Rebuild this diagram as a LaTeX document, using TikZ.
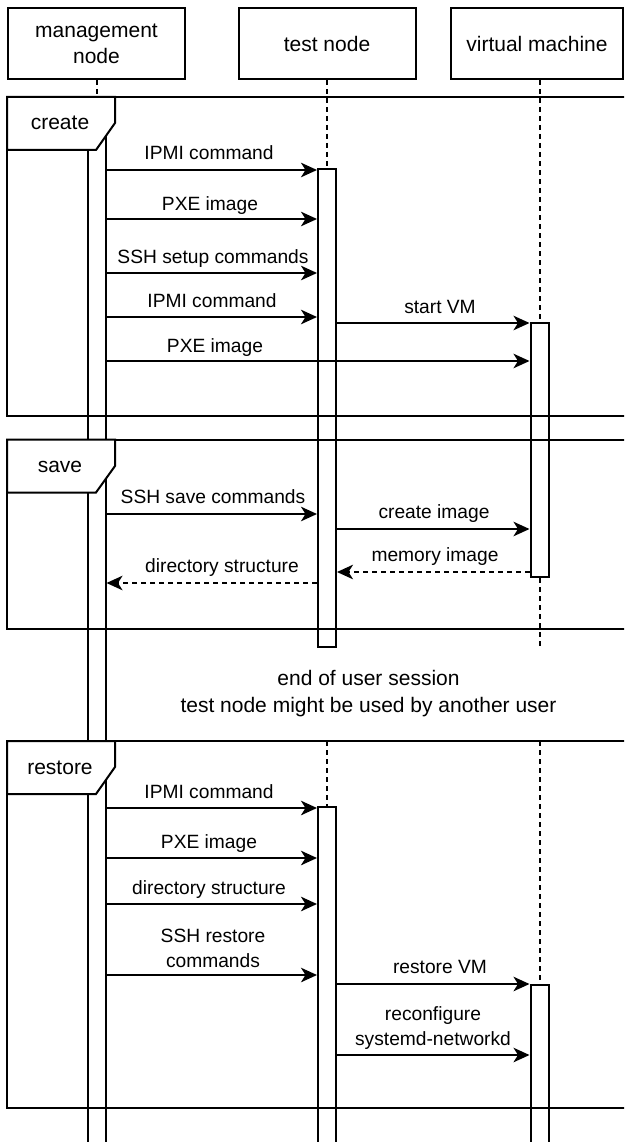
\documentclass[tikz,border=0pt]{standalone}
\usepackage{fontspec}
\setmainfont{Liberation Sans}
\usetikzlibrary{arrows.meta}
\tikzset{
  ln/.style={line width=2pt, draw=black},
  headbox/.style={ln, fill=white, minimum width=177pt, minimum height=71pt, inner sep=0pt,
    font=\fontsize{21}{26}\selectfont, align=center},
  bar/.style={ln, fill=white, minimum width=18pt, inner sep=0pt},
  life/.style={ln, dash pattern=on 5pt off 4pt},
  msg/.style={ln, -{Stealth[length=16pt,width=14.5pt,inset=4.5pt]}},
  reply/.style={msg, dash pattern=on 5pt off 4pt},
  lbl/.style={font=\fontsize{19.2}{25}\selectfont, inner sep=0pt, align=center, anchor=base},
  bigtxt/.style={font=\fontsize{21}{26.5}\selectfont, inner sep=0pt, align=center, anchor=base},
  frame/.style={ln},
  framelbl/.style={ln, fill=white},
}
\begin{document}
\begin{tikzpicture}[x=1pt,y=-1pt]
\useasboundingbox (0,0) rectangle (624,1142);
\clip (0,0) rectangle (624,1142);
% header boxes
\node[headbox] (hm) at (96.5,43.5) {management\\node};
\node[headbox] (ht) at (327,43.5) {test node};
\node[headbox, minimum width=172pt] (hv) at (537,43.5) {virtual machine};
% activation bars
\node[bar, anchor=north, minimum height=1060pt] (mb) at (96.5,97) {};
\node[bar, anchor=north, minimum height=478pt] (tb1) at (327,168) {};
\node[bar, anchor=north, minimum height=254pt] (vb1) at (539.5,322) {};
\node[bar, anchor=north, minimum height=360pt] (tb2) at (327,806) {};
\node[bar, anchor=north, minimum height=180pt] (vb2) at (539.5,984) {};
% lifelines
\coordinate (vtop) at (539.5,80);
\coordinate (vend) at (539.5,647);
\coordinate (tr) at (327,741);
\coordinate (vr) at (539.5,741);
\draw[life] (hm) -- (mb);
\draw[life] (ht) -- (tb1);
\draw[life] (vtop) -- (vb1);
\draw[life] (vb1) -- (vend);
\draw[life] (tr) -- (tb2);
\draw[life] (vr) -- (vb2);
% frames
\draw[frame] (7,97) rectangle (650,416);
\draw[frame] (7,439.5) rectangle (650,629);
\draw[frame] (7,741) rectangle (650,1108);
\filldraw[framelbl] (7,97) -- (115,97) -- (115,123) -- (96,150) -- (7,150) -- cycle;
\node[bigtxt] (fcreate) at (60,130) {create};
\filldraw[framelbl] (7,439.5) -- (115,439.5) -- (115,466) -- (96,492.5) -- (7,492.5) -- cycle;
\node[bigtxt] (fsave) at (60,472) {save};
\filldraw[framelbl] (7,741) -- (115,741) -- (115,767) -- (96,794) -- (7,794) -- cycle;
\node[bigtxt] (frestore) at (60,774) {restore};
% create messages
\draw[msg] (mb.east |- 0,170) -- (tb1.west |- 0,170);
\node[lbl] (l1) at (209,160) {IPMI command};
\draw[msg] (mb.east |- 0,219) -- (tb1.west |- 0,219);
\node[lbl] (l2) at (210,210) {PXE image};
\draw[msg] (mb.east |- 0,273) -- (tb1.west |- 0,273);
\node[lbl] (l3) at (213,263) {SSH setup commands};
\draw[msg] (mb.east |- 0,317) -- (tb1.west |- 0,317);
\node[lbl] (l4) at (212,307) {IPMI command};
\draw[msg] (tb1.east |- 0,323) -- (vb1.west |- 0,323);
\node[lbl] (l5) at (440,313) {start VM};
\draw[msg] (mb.east |- 0,361) -- (vb1.west |- 0,361);
\node[lbl] (l6) at (215,352) {PXE image};
% save messages
\draw[msg] (mb.east |- 0,514) -- (tb1.west |- 0,514);
\node[lbl] (l7) at (213,503) {SSH save commands};
\draw[msg] (tb1.east |- 0,529) -- (vb1.west |- 0,529);
\node[lbl] (l8) at (434,518) {create image};
\draw[reply] (vb1.west |- 0,572) -- (tb1.east |- 0,572);
\node[lbl] (l9) at (435,561) {memory image};
\draw[reply] (tb1.west |- 0,583) -- (mb.east |- 0,583);
\node[lbl] (l10) at (222,572) {directory structure};
% note
\node[bigtxt] (note) at (368.5,712) {end of user session\\test node might be used by another user};
% restore messages
\draw[msg] (mb.east |- 0,808) -- (tb2.west |- 0,808);
\node[lbl] (l11) at (209,798) {IPMI command};
\draw[msg] (mb.east |- 0,858) -- (tb2.west |- 0,858);
\node[lbl] (l12) at (209,848) {PXE image};
\draw[msg] (mb.east |- 0,904) -- (tb2.west |- 0,904);
\node[lbl] (l13) at (209,894) {directory structure};
\draw[msg] (mb.east |- 0,975) -- (tb2.west |- 0,975);
\node[lbl] (l14) at (213,967) {SSH restore\\commands};
\draw[msg] (tb2.east |- 0,984) -- (vb2.west |- 0,984);
\node[lbl] (l15) at (440,973) {restore VM};
\draw[msg] (tb2.east |- 0,1055) -- (vb2.west |- 0,1055);
\node[lbl] (l16) at (433,1045) {reconfigure\\systemd-networkd};
\end{tikzpicture}
\end{document}
